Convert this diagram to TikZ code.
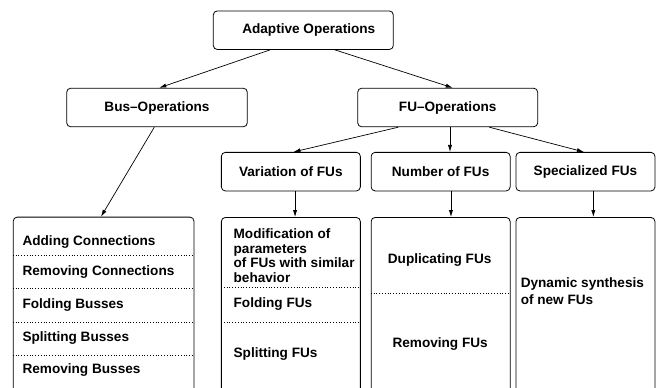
\documentclass[tikz,border=0pt]{standalone}
\usepackage{fontspec}
\setmainfont{Liberation Sans}
\usetikzlibrary{arrows.meta,positioning}

\begin{document}
\begin{tikzpicture}[
    x=1pt, y=-1pt,
    every node/.style={font=\fontsize{13.6}{14.5}\selectfont\bfseries},
    box/.style={draw, line width=0.8pt, rounded corners=4pt, inner sep=0pt, minimum width=139pt, minimum height=38.6pt, align=center},
    list/.style={draw, line width=0.8pt, rounded corners=4pt, inner sep=0pt, minimum width=139pt, minimum height=190pt, anchor=north},
    item/.style={inner sep=0pt, align=left},
    sep/.style={line width=0.6pt, dash pattern=on 0.7pt off 2.1pt},
    arrow/.style={-{Latex[length=7pt,width=4.2pt]}, line width=0.7pt}
]
\useasboundingbox (0,0) rectangle (656,388);

\node[box, minimum width=180pt] (adapt) at (303.3,30.2) {\hspace{11pt}Adaptive Operations};

% Bus operations
\node[box, minimum width=180.6pt] (bus) at (157,107.5) {Bus--Operations};
\node[list, minimum width=180.7pt] (blist) at (103.6,216.7) {};
\draw[arrow] ([xshift=-33.3pt]adapt.south) -- ([xshift=2.3pt]bus.north);
\draw[arrow] ([xshift=-2.7pt]bus.south) -- ([xshift=-2.6pt]blist.north);

\node[item, anchor=base west] (add) at ([xshift=9.5pt, yshift=-28.3pt]blist.north west) {Adding Connections};
\node[item, anchor=base west] (remc) at ([xshift=9.5pt, yshift=-59pt]blist.north west) {Removing Connections};
\node[item, anchor=base west] (foldb) at ([xshift=9.5pt, yshift=-91.6pt]blist.north west) {Folding Busses};
\node[item, anchor=base west] (splitb) at ([xshift=9.5pt, yshift=-125pt]blist.north west) {Splitting Busses};
\node[item, anchor=base west] (remb) at ([xshift=9.5pt, yshift=-156.6pt]blist.north west) {Removing Busses};
\foreach \d in {39,71.6,105.6,139}
  \draw[sep] ([yshift=-\d pt]blist.north west) -- ([yshift=-\d pt]blist.north east);

% FU operations
\node[box, minimum width=180pt] (fu) at (447.7,107.5) {FU--Operations};
\draw[arrow] ([xshift=31.7pt]adapt.south) -- ([xshift=5pt]fu.north);

\node[box] (var) at (290.85,171.65) {Variation of FUs};
\node[box, right=10pt of var] (num) {Number of FUs};
\node[box, right=5pt of num] (spec) {Specialized FUs};
\draw[arrow] ([xshift=-49.4pt]fu.south) -- ([xshift=2.6pt]var.north);
\draw[arrow] ([xshift=2.3pt]fu.south) -- ([xshift=2.3pt]fu.south |- num.north);
\draw[arrow] ([xshift=41.6pt]fu.south) -- ([xshift=-1.5pt]spec.north);

% Variation of FUs
\node[list, below=25.7pt of var] (vlist) {};
\draw[arrow] ([xshift=4.2pt]var.south) -- ([xshift=4.2pt]vlist.north);
% base of a multi-line node = its last line
\node[item, anchor=base west] (modif) at ([xshift=12.5pt, yshift=-65pt]vlist.north west) {Modification of\\parameters\\of FUs with similar\\behavior};
\node[item, anchor=base west] (foldf) at ([xshift=12.5pt, yshift=-90pt]vlist.north west) {Folding FUs};
\node[item, anchor=base west] (splitf) at ([xshift=12.5pt, yshift=-140pt]vlist.north west) {Splitting FUs};
\foreach \d in {70,105.6}
  \draw[sep] ([yshift=-\d pt]vlist.north west) -- ([yshift=-\d pt]vlist.north east);

% Number of FUs
\node[list, below=25.7pt of num] (nlist) {};
\draw[arrow] ([xshift=10.3pt]num.south) -- ([xshift=10.3pt]nlist.north);
\node[item, anchor=base] (dup) at ([xshift=-1pt, yshift=-46.6pt]nlist.north) {Duplicating FUs};
\node[item, anchor=base] (remf) at ([xshift=-0.5pt, yshift=-130.6pt]nlist.north) {Removing FUs};
\draw[sep] ([yshift=-76.6pt]nlist.north west) -- ([yshift=-76.6pt]nlist.north east);

% Specialized FUs
\node[list, below=25.7pt of spec] (slist) {};
\draw[arrow] ([xshift=7.9pt]spec.south) -- ([xshift=7.9pt]slist.north);
\node[item, anchor=base west] (synth) at ([xshift=5pt, yshift=-87.3pt]slist.north west) {Dynamic synthesis\\[2.8pt]of new FUs};

\end{tikzpicture}
\end{document}
